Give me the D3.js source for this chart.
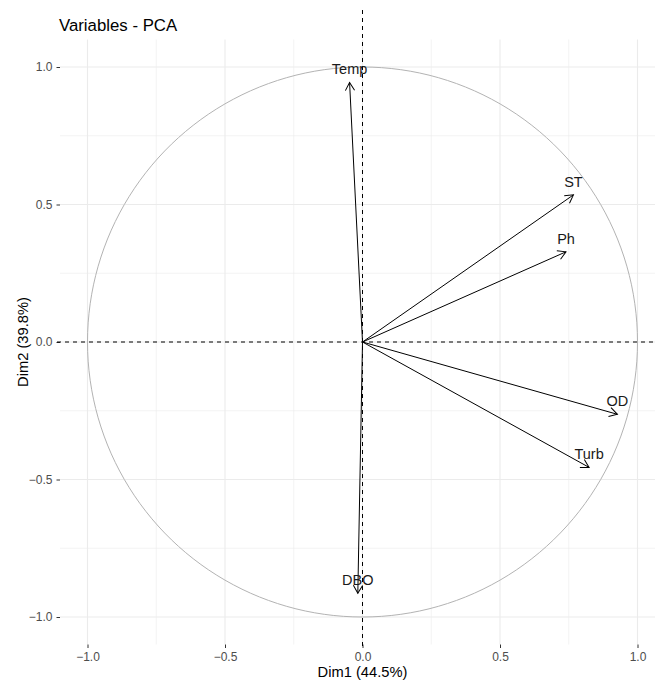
<!doctype html>
<html>
<head>
<meta charset="UTF-8">
<title>Variables - PCA</title>
<script src="https://d3js.org/d3.v7.min.js"></script>
<style>
  body { margin: 0; background: #ffffff; }
  svg { display: block; font-family: "Liberation Sans", Arial, sans-serif; }
</style>
</head>
<body>
<script>

// -------------------------------------- data

var varNames = ["Temp", "ST", "Ph", "OD", "Turb", "DBO"];
var dim1 = [-0.047, 0.767, 0.740, 0.927, 0.824, -0.017];
var dim2 = [0.944, 0.535, 0.328, -0.263, -0.456, -0.914];
var majorTicks = [-1.0, -0.5, 0.0, 0.5, 1.0];
var minorTicks = [-0.75, -0.25, 0.25, 0.75];
var xTitle = "Dim1 (44.5%)";
var yTitle = "Dim2 (39.8%)";
var chartTitle = "Variables - PCA";

// -------------------------------------- settings

var width = 655, height = 681;
var grid_col = "#ebebeb";
var circle_col = "#b3b3b3";
var tick_col = "#4d4d4d";

var svg = d3.select("body").append("svg")
    .attr("width", width)
    .attr("height", height);

var x = d3.scaleLinear().domain([-1.1, 1.1]).range([60, 665]);
var y = d3.scaleLinear().domain([-1.1, 1.1]).range([644.5, 39.5]);

var data = varNames.map(function(n, i) {
    return { name: n, x: dim1[i], y: dim2[i] };
});

// -------------------------------------- grid

var grid = svg.append("g");

grid.selectAll("line.minorx").data(minorTicks).enter().append("line")
    .attr("x1", d => x(d)).attr("x2", d => x(d))
    .attr("y1", y.range()[0]).attr("y2", y.range()[1])
    .style("stroke", grid_col).style("stroke-width", 0.6);

grid.selectAll("line.minory").data(minorTicks).enter().append("line")
    .attr("y1", d => y(d)).attr("y2", d => y(d))
    .attr("x1", x.range()[0]).attr("x2", x.range()[1])
    .style("stroke", grid_col).style("stroke-width", 0.6);

grid.selectAll("line.majorx").data(majorTicks).enter().append("line")
    .attr("x1", d => x(d)).attr("x2", d => x(d))
    .attr("y1", y.range()[0]).attr("y2", y.range()[1])
    .style("stroke", grid_col).style("stroke-width", 1.1);

grid.selectAll("line.majory").data(majorTicks).enter().append("line")
    .attr("y1", d => y(d)).attr("y2", d => y(d))
    .attr("x1", x.range()[0]).attr("x2", x.range()[1])
    .style("stroke", grid_col).style("stroke-width", 1.1);

// -------------------------------------- axes

var xAxis = d3.axisBottom(x).tickValues(majorTicks).tickSize(3.5).tickPadding(4)
    .tickFormat(d3.format(".1f"));
var yAxis = d3.axisLeft(y).tickValues(majorTicks).tickSize(3.5).tickPadding(4)
    .tickFormat(d3.format(".1f"));

var gx = svg.append("g")
    .attr("transform", "translate(0," + y.range()[0] + ")")
    .call(xAxis);
var gy = svg.append("g")
    .attr("transform", "translate(" + x.range()[0] + ",0)")
    .call(yAxis);

[gx, gy].forEach(function(g) {
    g.select(".domain").remove();
    g.selectAll(".tick line").style("stroke", "#333333").style("stroke-width", 1);
    g.selectAll(".tick text")
        .style("fill", tick_col)
        .style("font-size", "12px")
        .style("font-family", "Liberation Sans, Arial, sans-serif");
});
gx.selectAll(".tick text").text(d => d3.format(".1f")(d).replace("-0.0", "0.0"));

// -------------------------------------- circle of correlations

var circ = d3.range(0, 361, 2).map(a => [Math.cos(a * Math.PI / 180), Math.sin(a * Math.PI / 180)]);
svg.append("path")
    .datum(circ)
    .attr("d", d3.line().x(d => x(d[0])).y(d => y(d[1])))
    .style("fill", "none")
    .style("stroke", circle_col)
    .style("stroke-width", 1);

// -------------------------------------- dashed reference lines

svg.append("line")
    .attr("x1", x.range()[0] - 3).attr("x2", width)
    .attr("y1", y(0)).attr("y2", y(0))
    .style("stroke", "#000").style("stroke-width", 1)
    .style("stroke-dasharray", "4,4");

svg.append("line")
    .attr("x1", x(0)).attr("x2", x(0))
    .attr("y1", 10).attr("y2", y.range()[0] + 3)
    .style("stroke", "#000").style("stroke-width", 1)
    .style("stroke-dasharray", "4,4");

// -------------------------------------- arrows

svg.append("defs").append("marker")
    .attr("id", "head")
    .attr("markerUnits", "userSpaceOnUse")
    .attr("viewBox", "-10 -6 12 12")
    .attr("refX", 0).attr("refY", 0)
    .attr("markerWidth", 12).attr("markerHeight", 12)
    .attr("orient", "auto")
    .append("path")
    .attr("d", "M-8,-4.6 L0,0 L-8,4.6")
    .style("fill", "none")
    .style("stroke", "#000")
    .style("stroke-width", 1);

svg.selectAll("line.arrow").data(data).enter().append("line")
    .attr("class", "arrow")
    .attr("x1", x(0)).attr("y1", y(0))
    .attr("x2", d => x(d.x)).attr("y2", d => y(d.y))
    .style("stroke", "#000")
    .style("stroke-width", 1)
    .attr("marker-end", "url(#head)");

svg.selectAll("text.varlabel").data(data).enter().append("text")
    .attr("class", "varlabel")
    .attr("x", d => x(d.x))
    .attr("y", d => y(d.y) - 8)
    .attr("text-anchor", "middle")
    .style("font-size", "14.5px")
    .style("fill", "#1a1a1a")
    .text(d => d.name);

// -------------------------------------- titles

svg.append("text")
    .attr("x", 59).attr("y", 31)
    .style("font-size", "16.8px")
    .style("fill", "#000")
    .text(chartTitle);

svg.append("text")
    .attr("x", x(0)).attr("y", 677)
    .attr("text-anchor", "middle")
    .style("font-size", "14.7px")
    .style("fill", "#000")
    .text(xTitle);

svg.append("text")
    .attr("transform", "translate(28," + y(0) + ") rotate(-90)")
    .attr("text-anchor", "middle")
    .style("font-size", "14.7px")
    .style("fill", "#000")
    .text(yTitle);

</script>
</body>
</html>
